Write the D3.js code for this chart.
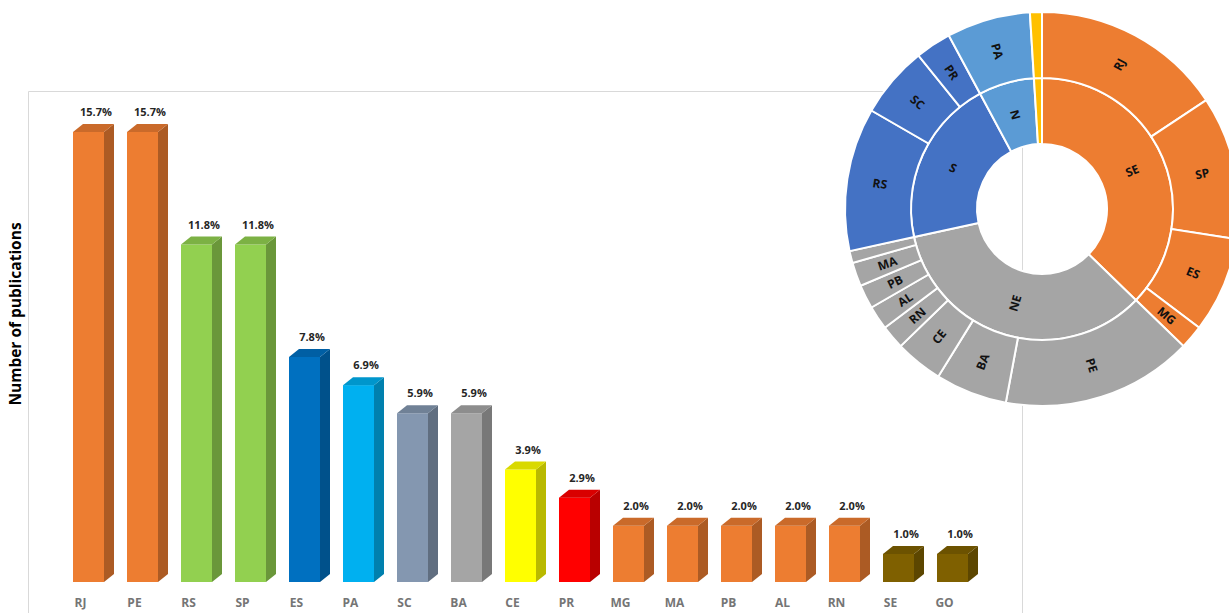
<!DOCTYPE html>
<html><head><meta charset="utf-8">
<script src="https://cdn.jsdelivr.net/npm/d3@7"></script>
<style>body{margin:0;background:#fff;} svg{display:block;}</style>
</head><body>
<svg id="chart" width="1229" height="613"></svg>
<script>
// ---- data ----
const states = ["RJ","PE","RS","SP","ES","PA","SC","BA","CE","PR","MG","MA","PB","AL","RN","SE","GO"];
const counts = [16,16,12,12,8,7,6,6,4,3,2,2,2,2,2,1,1];
const totalPubs = 102;
const barFront = ["#ED7D31","#ED7D31","#92D050","#92D050","#0070C0","#00B0F0","#8497B0","#A5A5A5","#FFFF00","#FF0000","#ED7D31","#ED7D31","#ED7D31","#ED7D31","#ED7D31","#7F6000","#7F6000"];
const regions = ["SE","NE","S","N","CO"];
const regionStates = [["RJ","SP","ES","MG"],["PE","BA","CE","RN","AL","PB","MA","SE"],["RS","SC","PR"],["PA"],["GO"]];
const regionColors = ["#ED7D31","#A5A5A5","#4472C4","#5B9BD5","#FFC000"];
const yTitle = "Number of publications";

const svg = d3.select("#chart");
const font = "'Open Sans', 'DejaVu Sans', sans-serif";

// frame
svg.append("path").attr("d","M28.5,613 V91.5 H1022.5 V613").attr("fill","none").attr("stroke","#d9d9d9").attr("stroke-width",1);

// scales
const x = d3.scaleBand().domain(states).range([59.5, 981.5]).paddingInner(23/54).paddingOuter(0.25);
const y = d3.scaleLinear().domain([0,16]).range([582,132]);
const dx = 10, dy = 8;
const countOf = s => counts[states.indexOf(s)];

const g = svg.append("g");
const bars = g.selectAll("g.bar").data(states).join("g").attr("class","bar");
bars.each(function(s,i){
  const sel = d3.select(this);
  const x0 = x(s), w = x.bandwidth(), yt = y(counts[i]), yb = y(0);
  const c = d3.color(barFront[i]);
  const side = c.darker(0.9), top = c.darker(0.45);
  sel.append("rect").attr("x",x0).attr("y",yt).attr("width",w).attr("height",yb-yt).attr("fill",c);
  sel.append("path").attr("d",`M${x0+w},${yt} L${x0+w+dx},${yt-dy} L${x0+w+dx},${yb-dy} L${x0+w},${yb} Z`).attr("fill",side);
  sel.append("path").attr("d",`M${x0},${yt} L${x0+dx},${yt-dy} L${x0+w+dx},${yt-dy} L${x0+w},${yt} Z`).attr("fill",top);
  sel.append("text").attr("x",x0+23).attr("y",yt-16).attr("text-anchor","middle")
    .attr("font-family",font).attr("font-weight",700).attr("font-size",11).attr("fill","#262626")
    .text((counts[i]/totalPubs*100).toFixed(1)+"%");
  sel.append("text").attr("x",x0+7.5).attr("y",607).attr("text-anchor","middle")
    .attr("font-family",font).attr("font-weight",700).attr("font-size",12).attr("fill","#757575")
    .text(s);
});

svg.append("text").attr("transform","translate(21,314) rotate(-90)").attr("text-anchor","middle")
  .attr("font-family",font).attr("font-weight",700).attr("font-size",15.5).attr("fill","#000").text(yTitle);

// ---- sunburst ----
const hierData = {name:"root", children: regions.map((r,i)=>({name:r, color:regionColors[i], children: regionStates[i].map(s=>({name:s, value:countOf(s)}))}))};
const root = d3.hierarchy(hierData).sum(d=>d.value||0);
d3.partition().size([2*Math.PI, 2])(root);
const radii = [[0,0],[65,131],[131,197]];
const arc = d3.arc().startAngle(d=>d.x0).endAngle(d=>d.x1)
  .innerRadius(d=>radii[d.depth][0]).outerRadius(d=>radii[d.depth][1]);
const sb = svg.append("g").attr("transform","translate(1042,209)");
const nodes = root.descendants().filter(d=>d.depth>0);
const colorOf = d => (d.depth===1 ? d.data.color : d.parent.data.color);
sb.selectAll("path").data(nodes).join("path").attr("d",arc).attr("fill",colorOf)
  .attr("stroke","#fff").attr("stroke-width",2);
sb.selectAll("text").data(nodes.filter(d=>(d.x1-d.x0)>0.1)).join("text")
  .attr("transform",d=>{
    const a = (d.x0+d.x1)/2; const r = (radii[d.depth][0]+radii[d.depth][1])/2;
    const deg = a*180/Math.PI;
    const rot = deg>180 ? deg-270 : deg-90;
    return `translate(${r*Math.sin(a)},${-r*Math.cos(a)}) rotate(${rot})`;
  })
  .attr("text-anchor","middle").attr("dy","0.35em")
  .attr("font-family",font).attr("font-weight",700).attr("font-size",12).attr("fill","#111")
  .text(d=>d.data.name);
</script>
</body></html>
